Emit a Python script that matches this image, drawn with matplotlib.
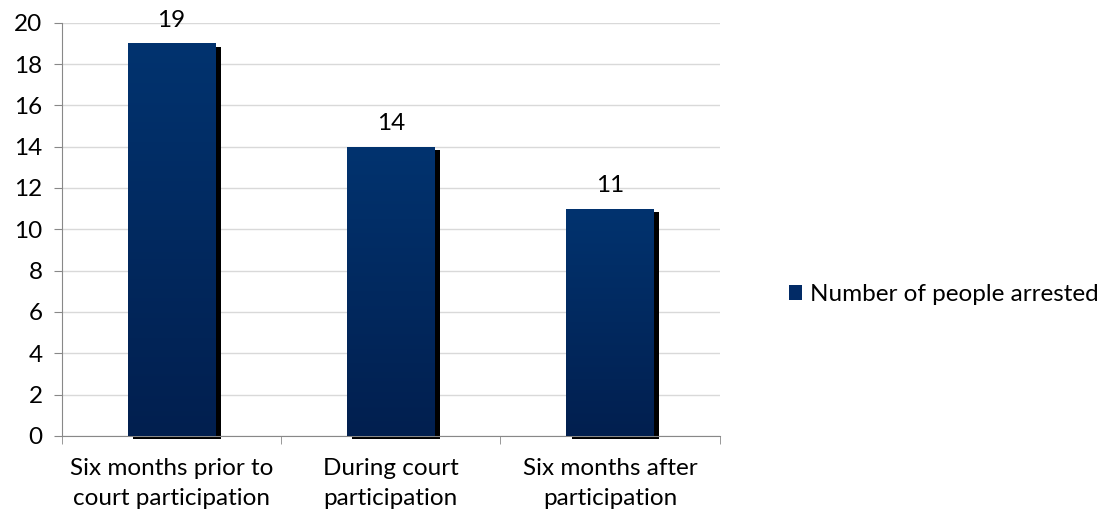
import numpy as np
import matplotlib.pyplot as plt
from matplotlib.patches import Rectangle
from matplotlib.colors import LinearSegmentedColormap

categories = ['Six months prior to\ncourt participation',
              'During court\nparticipation',
              'Six months after\nparticipation']
arrested = [19, 14, 11]
series_name = 'Number of people arrested'

plt.rcParams['font.family'] = ['Lato', 'DejaVu Sans']
plt.rcParams['font.size'] = 17.5

fig = plt.figure(figsize=(11.07, 5.17), dpi=100)
ax = fig.add_axes([0.056, 0.157, 0.594, 0.799])

x = np.arange(len(categories))
width = 0.4
grad = LinearSegmentedColormap.from_list('bar', ['#011f4f', '#02336f'])
gradient = np.linspace(0, 1, 256).reshape(-1, 1)

ax.set_xlim(-0.5, len(categories) - 0.5)
ax.set_ylim(0, 20)

for xi, v in zip(x, arrested):
    # drop shadow behind each bar
    ax.add_patch(Rectangle((xi - width / 2 + 0.025, -0.15), width, v,
                           facecolor='black', edgecolor='none', zorder=2,
                           clip_on=False))
    bar = ax.bar(xi, v, width, color='#012a60', zorder=3)[0]
    im = ax.imshow(gradient, cmap=grad, aspect='auto', origin='lower',
                   extent=(xi - width / 2, xi + width / 2, 0, v), zorder=3)
    im.set_clip_path(bar)
    ax.text(xi, v + 0.6, str(v), ha='center', va='bottom')

ax.set_xlim(-0.5, len(categories) - 0.5)
ax.set_ylim(0, 20)
ax.set_yticks(range(0, 21, 2))
ax.yaxis.grid(True, color='#d9d9d9', linewidth=1)
ax.set_axisbelow(True)

ax.set_xticks(x)
ax.set_xticklabels(categories, linespacing=1.55)
ax.set_xticks(np.arange(-0.5, len(categories), 1), minor=True)
ax.tick_params(axis='x', which='major', length=0, pad=16)
ax.tick_params(axis='x', which='minor', length=6, color='#888888')
ax.tick_params(axis='y', length=6, color='#888888', pad=8)

for side in ['top', 'right']:
    ax.spines[side].set_visible(False)
for side in ['left', 'bottom']:
    ax.spines[side].set_color('#888888')

handle = Rectangle((0, 0), 1, 1, facecolor='#022b66')
fig.legend([handle], [series_name], loc='center left',
           bbox_to_anchor=(0.693, 0.43), frameon=False,
           handlelength=0.55, handleheight=0.55, handletextpad=0.3)

fig.savefig('out.png', dpi=100)
